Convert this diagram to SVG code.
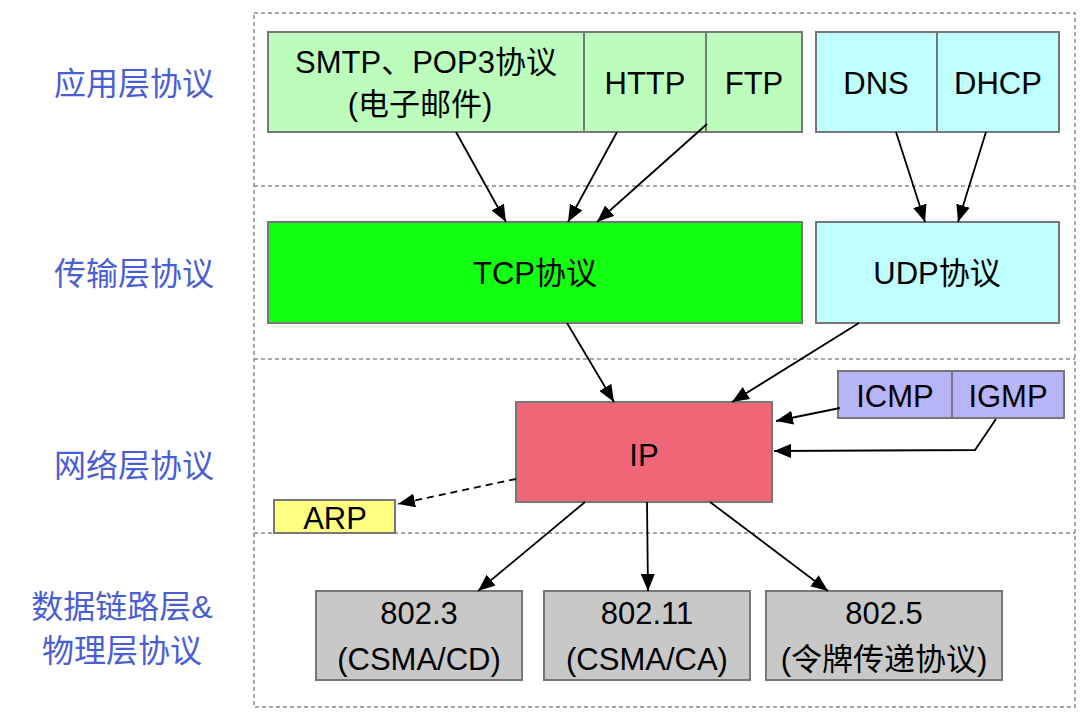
<svg xmlns="http://www.w3.org/2000/svg" width="1084" height="714" viewBox="0 0 1084 714">
<style>
.frame{fill:none;stroke:#8a8a8a;stroke-width:1.5;stroke-dasharray:4 3}
.box{stroke:#777;stroke-width:2}
.t{font-family:"Liberation Sans","Noto Sans CJK SC",sans-serif;font-size:31px;fill:#000;text-anchor:middle}
.lbl{font-family:"Liberation Sans","Noto Sans CJK SC",sans-serif;font-size:32px;fill:#4a5ed4;text-anchor:middle}
.c{fill:none;stroke:#000;stroke-width:1.8;marker-end:url(#ah)}
.dash{stroke-dasharray:7 5}
.green{fill:#bdfdbb}.cyan{fill:#c0ffff}.tcp{fill:#12ff12}.ip{fill:#f06677}.icmp{fill:#b8b4f8}.arp{fill:#ffff80}.gray{fill:#c8c8c8}
</style>
<defs>
<marker id="ah" markerWidth="18" markerHeight="14" refX="17" refY="7" orient="auto" markerUnits="userSpaceOnUse">
<path d="M0,0 L17,7 L0,14 Z" fill="#000"/>
</marker>
</defs>
<g id="frame">
<rect class="frame" x="254" y="13" width="821" height="694"/>
<line class="frame" x1="254" y1="186" x2="1075" y2="186"/>
<line class="frame" x1="254" y1="359" x2="1075" y2="359"/>
<line class="frame" x1="254" y1="533" x2="1075" y2="533"/>
</g>
<g id="labels">
<text class="lbl" x="134" y="95">应用层协议</text>
<text class="lbl" x="134" y="285">传输层协议</text>
<text class="lbl" x="134" y="477">网络层协议</text>
<text class="lbl" x="122" y="618">数据链路层&amp;</text>
<text class="lbl" x="122" y="662">物理层协议</text>
</g>
<g id="smtp"><rect class="box green" x="268" y="32" width="316" height="100"/>
<text class="t" x="426" y="73">SMTP、POP3协议</text><text class="t" x="420" y="115">(电子邮件)</text></g>
<g id="http"><rect class="box green" x="584" y="32" width="122" height="100"/><text class="t" x="645" y="94">HTTP</text></g>
<g id="ftp"><rect class="box green" x="706" y="32" width="96" height="100"/><text class="t" x="754" y="94">FTP</text></g>
<g id="dns"><rect class="box cyan" x="816" y="32" width="121" height="100"/><text class="t" x="876" y="94">DNS</text></g>
<g id="dhcp"><rect class="box cyan" x="937" y="32" width="122" height="100"/><text class="t" x="998" y="94">DHCP</text></g>
<g id="tcp"><rect class="box tcp" x="268" y="222" width="534" height="101"/><text class="t" x="535" y="284">TCP协议</text></g>
<g id="udp"><rect class="box cyan" x="816" y="222" width="243" height="101"/><text class="t" x="937" y="284">UDP协议</text></g>
<g id="ip"><rect class="box ip" x="516" y="402" width="256" height="100"/><text class="t" x="644" y="466">IP</text></g>
<g id="icmp"><rect class="box icmp" x="838" y="371" width="114" height="47"/><text class="t" x="895" y="407">ICMP</text></g>
<g id="igmp"><rect class="box icmp" x="952" y="371" width="112" height="47"/><text class="t" x="1008" y="407">IGMP</text></g>
<g id="arp"><rect class="box arp" x="274" y="500" width="121" height="33"/><text class="t" x="335" y="529">ARP</text></g>
<g id="e8023"><rect class="box gray" x="316" y="591" width="206" height="89"/>
<text class="t" x="419" y="624">802.3</text><text class="t" x="419" y="670">(CSMA/CD)</text></g>
<g id="e80211"><rect class="box gray" x="544" y="591" width="206" height="89"/>
<text class="t" x="647" y="624">802.11</text><text class="t" x="647" y="670">(CSMA/CA)</text></g>
<g id="e8025"><rect class="box gray" x="766" y="591" width="236" height="89"/>
<text class="t" x="884" y="624">802.5</text><text class="t" x="884" y="670">(令牌传递协议)</text></g>
<g id="connectors">
<path class="c" d="M456,132 L506,222"/>
<path class="c" d="M617,132 L568,222"/>
<path class="c" d="M707,124 L597,222"/>
<path class="c" d="M896,132 L925,222"/>
<path class="c" d="M986,132 L958,222"/>
<path class="c" d="M567,323 L614,402"/>
<path class="c" d="M859,323 L732,402"/>
<path class="c" d="M840,408 L776,421"/>
<path class="c" d="M996,419 L975,450 L774,451"/>
<path class="c dash" d="M516,479 L398,504"/>
<path class="c" d="M585,502 L478,591"/>
<path class="c" d="M647,502 L648,591"/>
<path class="c" d="M710,502 L828,591"/>
</g>
</svg>
